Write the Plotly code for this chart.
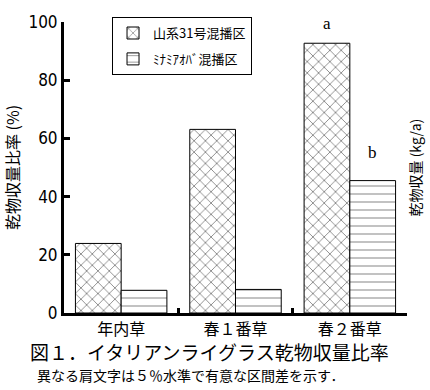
import plotly.graph_objects as go

categories = ["年内草", "春１番草", "春２番草"]
series_names = ["山系31号混播区", "ﾐﾅﾐｱｵﾊﾞ混播区"]
yamakei = [23.9, 63.1, 92.7]
minami = [7.8, 8.1, 45.5]
sig_labels = ["a", "b"]
y_ticks = [0, 20, 40, 60, 80, 100]

JP = "Noto Sans CJK JP, sans-serif"
NUM = "DejaVu Sans Condensed, Liberation Sans Narrow, sans-serif"

fig = go.Figure()
fig.add_trace(go.Bar(
    x=categories, y=yamakei, name=series_names[0], legendgroup="g1",
    marker=dict(color="white", line=dict(color="black", width=1),
                pattern=dict(shape="x", fgcolor="black", bgcolor="white", size=8, solidity=0.2)),
))
fig.add_trace(go.Bar(
    x=categories, y=minami, name=series_names[1], legendgroup="g2",
    marker=dict(color="white", line=dict(color="black", width=1),
                pattern=dict(shape="-", fgcolor="black", bgcolor="white", size=8, solidity=0.12)),
))

fig.update_layout(
    width=430, height=390,
    margin=dict(l=64, r=23, t=22, b=77),
    plot_bgcolor="white", paper_bgcolor="white",
    barmode="group", bargap=0.2, bargroupgap=0,
    font=dict(family=JP, color="black", size=16),
    legend=dict(x=0.14, y=1.017, xanchor="left", yanchor="top",
                bordercolor="black", borderwidth=1, bgcolor="white",
                font=dict(family=JP, size=13), tracegroupgap=6),
    xaxis=dict(showline=True, linecolor="black", linewidth=3, automargin=False,
               ticks="inside", tickson="boundaries", ticklen=5, tickwidth=3,
               tickcolor="black", showgrid=False,
               tickfont=dict(family=JP, size=16)),
    yaxis=dict(range=[0, 100], tickvals=y_ticks, showline=True, linecolor="black",
               linewidth=3, ticks="inside", ticklen=6, tickwidth=3, tickcolor="black",
               showgrid=False, zeroline=False, automargin=False,
               tickfont=dict(family=NUM, size=17),
               title=dict(text="乾物収量比率 (%)", font=dict(family=JP, size=16), standoff=8)),
)

fig.add_annotation(x=categories[2], y=yamakei[2], xref="x", yref="y", text=sig_labels[0],
                   showarrow=False, xshift=-23, yshift=20,
                   font=dict(family="Liberation Serif, DejaVu Serif, serif", size=17))
fig.add_annotation(x=categories[2], y=minami[2], xref="x", yref="y", text=sig_labels[1],
                   showarrow=False, xshift=23, yshift=28,
                   font=dict(family="Liberation Serif, DejaVu Serif, serif", size=17))

fig.add_annotation(x=1, y=0.5, xref="paper", yref="paper", text="乾物収量 (kg/a)",
                   textangle=-90, showarrow=False, xshift=7, xanchor="center",
                   font=dict(family=JP, size=14))
fig.add_annotation(x=0.425, y=-0.134, xref="paper", yref="paper",
                   text="図１．イタリアンライグラス乾物収量比率", showarrow=False,
                   font=dict(family=JP, size=19), yanchor="middle")
fig.add_annotation(x=0.37, y=-0.213, xref="paper", yref="paper",
                   text="異なる肩文字は５％水準で有意な区間差を示す．", showarrow=False,
                   font=dict(family=JP, size=14), yanchor="middle")

fig.write_html("out.html", config={"displayModeBar": False},
               post_script="document.body.style.margin='0';document.body.style.overflow='hidden';")
